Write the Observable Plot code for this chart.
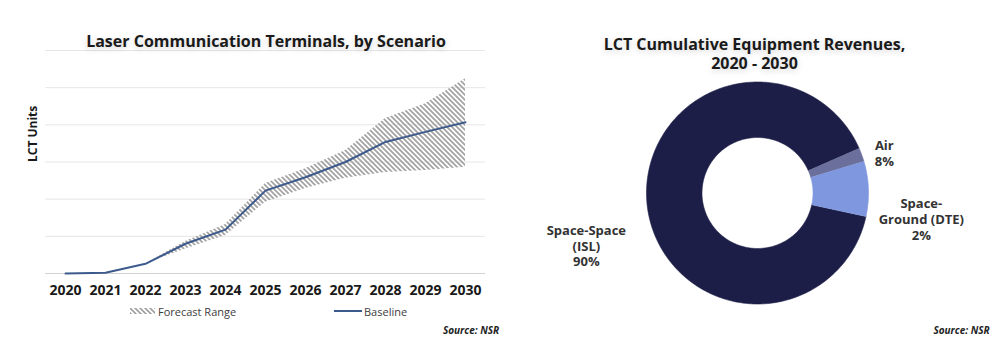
<!DOCTYPE html>
<html><head><meta charset="utf-8">
<script src="https://cdn.jsdelivr.net/npm/d3@7"></script>
<script src="https://cdn.jsdelivr.net/npm/@observablehq/plot@0.6"></script>
<style>
html,body{margin:0;padding:0;background:#fff;}
#wrap{position:relative;width:1008px;height:350px;overflow:hidden;font-family:"Open Sans",sans-serif;color:#1a1a1a;}
.c{position:absolute;transform:translate(-50%,-50%);line-height:1;white-space:pre;text-align:center;}
.l{position:absolute;transform:translateY(-50%);line-height:1;white-space:pre;}
.title{font-weight:700;font-size:16px;text-shadow:0 2px 6px rgba(0,0,0,0.18);}
.title2{line-height:19px;}
.src{font-weight:700;font-style:italic;font-size:10px;color:#222;}
.leg{font-size:11px;color:#404040;}
svg{position:absolute;}
</style></head><body><div id="wrap"></div>
<script>
// ---- Left chart data ----
const years = [2020, 2021, 2022, 2023, 2024, 2025, 2026, 2027, 2028, 2029, 2030];
const baseline = [0, 0.02, 0.26, 0.80, 1.18, 2.23, 2.59, 3.00, 3.54, 3.81, 4.07];
const rangeYears = [2022, 2023, 2024, 2025, 2026, 2027, 2028, 2029, 2030];
const rangeLow  = [0.26, 0.66, 1.02, 1.92, 2.29, 2.56, 2.72, 2.77, 2.86];
const rangeHigh = [0.26, 0.86, 1.32, 2.42, 2.82, 3.31, 4.17, 4.57, 5.24];
const gridValues = [0, 1, 2, 3, 4, 5, 6];

// ---- Right chart data ----
const segments = ["Space-Space (ISL)", "Air", "Space-Ground (DTE)"];
const shares = [90, 2, 8];
const segLabels = ["Space-Space\n(ISL)\n90%", "Air\n8%", "Space-\nGround (DTE)\n2%"];

const wrap = document.getElementById("wrap");
function addText(cls, txt, x, y) {
  const d = document.createElement("div");
  d.className = cls; d.textContent = txt;
  d.style.left = x + "px"; d.style.top = y + "px";
  wrap.appendChild(d); return d;
}

// ---- Left: line + forecast band ----
const lineData = years.map((yr, i) => ({year: yr, value: baseline[i]}));
const bandData = rangeYears.map((yr, i) => ({year: yr, low: rangeLow[i], high: rangeHigh[i]}));

const left = Plot.plot({
  width: 500, height: 350,
  marginLeft: 45, marginRight: 15, marginTop: 50, marginBottom: 77,
  style: {fontFamily: "Open Sans", background: "transparent", color: "#1a1a1a", overflow: "visible"},
  x: {domain: [2019.5, 2030.5], label: null},
  y: {domain: [0, 6], label: null, axis: null},
  marks: [
    Plot.gridY(gridValues, {stroke: "#e6e6e6", strokeOpacity: 1}),
    Plot.ruleY([0], {stroke: "#d2d2d2"}),
    Plot.areaY(bandData, {x: "year", y1: "low", y2: "high", fill: "url(#hatch)"}),
    Plot.lineY(lineData, {x: "year", y: "value", stroke: "#3d5a8c", strokeWidth: 2}),
    Plot.axisX(years, {tickSize: 0, tickPadding: 12, tickFormat: d => String(d), fontSize: 14, fontWeight: "bold", label: null}),
    Plot.text(["LCT Units"], {frameAnchor: "left", rotate: -90, dx: -12, fontWeight: "bold", fontSize: 12, fill: "#1a1a1a"})
  ]
});
left.style.left = "0px"; left.style.top = "0px";
const defs = d3.select(left).insert("defs", ":first-child");
const pat = defs.append("pattern").attr("id", "hatch").attr("patternUnits", "userSpaceOnUse").attr("width", 5).attr("height", 5);
pat.append("path").attr("d", "M-1,-1L6,6M-1,4L1,6M4,-1L6,1").attr("stroke", "#a4a4a4").attr("stroke-width", 1.8);
wrap.appendChild(left);

addText("c title", "Laser Communication Terminals, by Scenario", 266, 41);

// legend
const sw = d3.create("svg").attr("width", 25).attr("height", 6).style("left", "130px").style("top", "308px");
const p2 = sw.append("defs").append("pattern").attr("id", "hatch2").attr("patternUnits", "userSpaceOnUse").attr("width", 5).attr("height", 5);
p2.append("path").attr("d", "M-1,-1L6,6M-1,4L1,6M4,-1L6,1").attr("stroke", "#a0a0a0").attr("stroke-width", 1.7);
sw.append("rect").attr("width", 25).attr("height", 6).attr("fill", "url(#hatch2)");
wrap.appendChild(sw.node());
addText("l leg", "Forecast Range", 158, 311);
const bl = document.createElement("div");
bl.style.cssText = "position:absolute;left:334px;top:310px;width:28px;height:2px;background:#3d5a8c;";
wrap.appendChild(bl);
addText("l leg", "Baseline", 364, 311);
addText("c src", "Source: NSR", 471, 330);

// ---- Right: donut ----
const R_IN = 0.5;
const startDeg = 102.2;
const arcs = d3.pie().sort(null).value(d => d)
  .startAngle(startDeg * Math.PI / 180)
  .endAngle(startDeg * Math.PI / 180 + 2 * Math.PI)(shares);
const ring = [];
arcs.forEach((a, i) => {
  const steps = Math.max(4, Math.ceil((a.endAngle - a.startAngle) / (2 * Math.PI) * 360));
  for (let k = 0; k <= steps; k++) {
    const t = a.startAngle + (a.endAngle - a.startAngle) * k / steps;
    ring.push({seg: segments[i], x: Math.sin(t), y: Math.cos(t)});
  }
  for (let k = steps; k >= 0; k--) {
    const t = a.startAngle + (a.endAngle - a.startAngle) * k / steps;
    ring.push({seg: segments[i], x: R_IN * Math.sin(t), y: R_IN * Math.cos(t)});
  }
});
function labelPos(i, k) {
  const a = arcs[i], m = (a.startAngle + a.endAngle) / 2;
  return [{label: segLabels[i], x: k * Math.sin(m), y: k * Math.cos(m)}];
}
const labelStyle = {x: "x", y: "y", text: "label", fontSize: 13, fontWeight: "bold", fill: "#333", lineHeight: 1.23, lineAnchor: "middle", textAnchor: "middle"};
const right = Plot.plot({
  width: 498, height: 350,
  marginLeft: 136, marginRight: 140, marginTop: 81.5, marginBottom: 46.5,
  style: {fontFamily: "Open Sans", background: "transparent", overflow: "visible"},
  x: {domain: [-1, 1], axis: null},
  y: {domain: [-1, 1], axis: null},
  color: {domain: segments, range: ["#1c1e47", "#6b6f9b", "#7f97de"]},
  marks: [
    Plot.line(ring, {x: "x", y: "y", z: "seg", fill: "seg", stroke: "seg", strokeWidth: 0.6}),
    Plot.text(labelPos(0, 1.55), {...labelStyle, dy: 35}),
    Plot.text(labelPos(1, 1.15), {...labelStyle, dx: 7, dy: 3.5}),
    Plot.text(labelPos(2, 1.45), {...labelStyle, dx: 3, dy: 32})
  ]
});
right.style.left = "510px"; right.style.top = "0px";
wrap.appendChild(right);

addText("c title title2", "LCT Cumulative Equipment Revenues,\n2020 - 2030", 754.5, 54);
addText("c src", "Source: NSR", 961.5, 330);
</script>
</body></html>
